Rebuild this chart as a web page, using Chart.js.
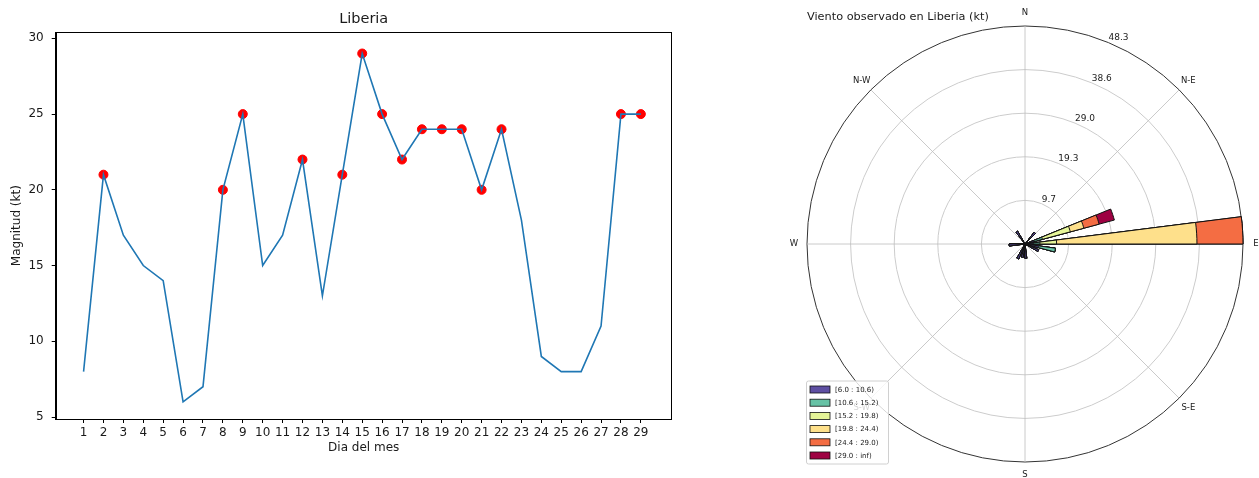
<!DOCTYPE html>
<html>
<head>
<meta charset="utf-8">
<script src="https://cdn.jsdelivr.net/npm/chart.js@4.4.1/dist/chart.umd.min.js"></script>
<style>
html,body{margin:0;padding:0;background:#fff;width:1259px;height:478px;overflow:hidden;}
#lineChart{position:absolute;left:0;top:0;}
#roseChart{position:absolute;left:780px;top:0;}
</style>
</head>
<body>
<canvas id="lineChart" width="700" height="478" style="width:700px;height:478px"></canvas>
<canvas id="roseChart" width="479" height="478" style="width:479px;height:478px"></canvas>
<script>
// ---------- Left chart data ----------
const days = [1,2,3,4,5,6,7,8,9,10,11,12,13,14,15,16,17,18,19,20,21,22,23,24,25,26,27,28,29];
const speedKt = [8,21,17,15,14,6,7,20,25,15,17,22,13,21,29,25,22,24,24,24,20,24,18,9,8,8,11,25,25];
const markedDays = [2,8,9,12,14,15,16,17,18,19,20,21,22,28,29];
const yTicks = [5,10,15,20,25,30];

// ---------- Wind rose data ----------
const compassLabels = ['N','N-E','E','S-E','S','S-W','W','N-W'];
const sectorDirs = [0,15,30,45,60,75,90,105,120,135,150,165,180,195,210,225,240,255,270,285,300,315,330,345];
const binLabels = ['[6.0 : 10.6)','[10.6 : 15.2)','[15.2 : 19.8)','[19.8 : 24.4)','[24.4 : 29.0)','[29.0 : inf)'];
const binColors = ['#5e4fa2','#66c2a5','#e6f598','#fee08b','#f46d43','#9e0142'];
//                 0   15  30  45  60  75   90   105 120 135 150 165 180 195 210 225 240 255 270 285 300 315 330 345
const bin6to10  = [0,  0,  0,  3.3,0,  2.0, 1.8, 3.0,3.3,0,  0,  0,  3.2,3.0,3.6,0,  0,  0,  3.5,0,  0,  0,  3.3,0];
const bin10to15 = [0,  0,  0,  0,  0,  2.0, 1.5, 3.8,0,  0,  0,  0,  0,  0,  0,  0,  0,  0,  0,  0,  0,  0,  0,  0];
const bin15to19 = [0,  0,  0,  0,  0,  6.4, 3.7, 0,  0,  0,  0,  0,  0,  0,  0,  0,  0,  0,  0,  0,  0,  0,  0,  0];
const bin19to24 = [0,  0,  0,  0,  0,  3.1, 31.1,0,  0,  0,  0,  0,  0,  0,  0,  0,  0,  0,  0,  0,  0,  0,  0,  0];
const bin24to29 = [0,  0,  0,  0,  0,  3.5, 10.2,0,  0,  0,  0,  0,  0,  0,  0,  0,  0,  0,  0,  0,  0,  0,  0,  0];
const bin29up   = [0,  0,  0,  0,  0,  3.5, 0,   0,  0,  0,  0,  0,  0,  0,  0,  0,  0,  0,  0,  0,  0,  0,  0,  0];
const ringValues = [9.66, 19.32, 28.98, 38.64, 48.3];
const ringLabels = ['9.7','19.3','29.0','38.6','48.3'];

const FONT = "'DejaVu Sans', 'Liberation Sans', sans-serif";
const TXT = '#1a1a1a';

// ---------- Left line chart ----------
const frameAndTitle = {
  id: 'frameAndTitle',
  afterDraw(chart) {
    const {ctx, chartArea: a} = chart;
    ctx.save();
    ctx.strokeStyle = '#000';
    ctx.lineWidth = 1;
    ctx.strokeRect(Math.round(a.left) + 0.5, Math.round(a.top) + 0.5, Math.round(a.right - a.left) - 1, Math.round(a.bottom - a.top));
    ctx.fillStyle = TXT;
    ctx.font = `14.5px ${FONT}`;
    ctx.textAlign = 'center';
    ctx.textBaseline = 'middle';
    ctx.fillText('Liberia', (a.left + a.right) / 2, 19.5);
    ctx.restore();
  }
};

new Chart(document.getElementById('lineChart'), {
  type: 'line',
  data: {
    datasets: [
      {
        data: days.map((d, i) => ({x: d, y: speedKt[i]})),
        borderColor: '#1f77b4',
        borderWidth: 1.6,
        pointRadius: 0,
        tension: 0,
        order: 0
      },
      {
        type: 'scatter',
        data: markedDays.map(d => ({x: d, y: speedKt[days.indexOf(d)]})),
        backgroundColor: '#ff0000',
        borderColor: '#ff0000',
        pointRadius: 4.5,
        showLine: false,
        order: 1
      }
    ]
  },
  options: {
    responsive: false,
    animation: false,
    layout: {padding: {left: 0, right: 28.3, top: 32.3, bottom: 0}},
    plugins: {
      legend: {display: false},
      tooltip: {enabled: false},
      title: {display: false}
    },
    scales: {
      x: {
        type: 'linear', min: -0.4, max: 30.55,
        afterBuildTicks: s => { s.ticks = days.map(v => ({value: v})); },
        afterFit: s => { s.height = 59; },
        ticks: {color: TXT, font: {family: FONT, size: 12}, padding: 3, maxRotation: 0, autoSkip: false},
        grid: {drawOnChartArea: false, drawTicks: true, tickLength: 4, tickColor: '#000', color: '#000', lineWidth: 1},
        border: {display: true, color: '#000', width: 1},
        title: {display: true, text: 'Dia del mes', color: TXT, font: {family: FONT, size: 12}, padding: {top: 0, bottom: 22.8}}
      },
      y: {
        type: 'linear', min: 4.87, max: 30.4,
        afterBuildTicks: s => { s.ticks = yTicks.map(v => ({value: v})); },
        afterFit: s => { s.width = 55.7; },
        ticks: {color: TXT, font: {family: FONT, size: 12}, padding: 8},
        grid: {drawOnChartArea: false, drawTicks: true, tickLength: 4, tickColor: '#000', color: '#000', lineWidth: 1},
        border: {display: true, color: '#000', width: 1},
        title: {display: true, text: 'Magnitud (kt)', color: TXT, font: {family: FONT, size: 12}, padding: {top: 9.8, bottom: 0}}
      }
    }
  },
  plugins: [frameAndTitle]
});

// ---------- Right wind rose (polar area) ----------
const binSeries = [bin6to10, bin10to15, bin15to19, bin19to24, bin24to29, bin29up];
const opening = 7.2;
const arcAngles = [];
const arcSector = [];
let prevEnd = 0;
for (let k = 1; k <= sectorDirs.length; k++) {
  const s = k % sectorDirs.length;
  const dir = s === 0 ? 360 : sectorDirs[s];
  arcAngles.push(dir - opening - prevEnd); arcSector.push(-1);   // empty gap
  arcAngles.push(opening); arcSector.push(s);                      // bar of sector s
  prevEnd = dir;
}

const roseDatasets = binSeries.map((_, b) => ({
  label: binLabels[b],
  data: arcSector.map(s => s < 0 ? 0 : binSeries.slice(0, b + 1).reduce((acc, arr) => acc + arr[s], 0)),
  backgroundColor: binColors[b],
  borderColor: '#111',
  borderWidth: ctx => (ctx.raw > 0 ? 1 : 0),
  borderJoinStyle: 'miter',
  angle: ctx => arcAngles[ctx.dataIndex]
}));

const roseText = {
  id: 'roseText',
  afterDraw(chart) {
    const {ctx} = chart;
    const scale = chart.scales.r;
    ctx.save();
    // compass labels
    ctx.font = `8.5px ${FONT}`;
    ctx.fillStyle = TXT;
    ctx.textAlign = 'center';
    ctx.textBaseline = 'middle';
    compassLabels.forEach((lab, i) => {
      const p = scale.getPointPosition(i, scale.drawingArea + 13);
      ctx.fillText(lab, p.x, p.y);
    });
    // ring labels along 22.5 degrees
    ctx.font = `9px ${FONT}`;
    ctx.textAlign = 'left';
    ctx.textBaseline = 'bottom';
    ringValues.forEach((v, i) => {
      const p = scale.getPointPosition(0.5, scale.getDistanceFromCenterForValue(v));
      ctx.fillText(ringLabels[i], p.x, p.y);
    });
    // legend
    const a = chart.chartArea;
    const lx = a.left - 1, ly = a.bottom - 83, lw = 82, lh = 83;
    ctx.fillStyle = 'rgba(255,255,255,0.8)';
    ctx.strokeStyle = '#d0d0d0';
    ctx.lineWidth = 1;
    ctx.beginPath();
    if (ctx.roundRect) ctx.roundRect(lx + 0.5, ly + 0.5, lw, lh, 2); else ctx.rect(lx + 0.5, ly + 0.5, lw, lh);
    ctx.fill();
    ctx.stroke();
    ctx.font = `7px ${FONT}`;
    ctx.textAlign = 'left';
    ctx.textBaseline = 'middle';
    binLabels.forEach((lab, i) => {
      const cy = ly + 9 + i * 13.2;
      ctx.fillStyle = binColors[i];
      ctx.fillRect(lx + 4, cy - 3.5, 20, 7);
      ctx.strokeStyle = '#111';
      ctx.lineWidth = 0.8;
      ctx.strokeRect(lx + 4, cy - 3.5, 20, 7);
      ctx.fillStyle = TXT;
      ctx.fillText(lab, lx + 29, cy + 0.5);
    });
    ctx.restore();
  }
};

new Chart(document.getElementById('roseChart'), {
  type: 'polarArea',
  data: {
    labels: compassLabels,
    datasets: roseDatasets
  },
  options: {
    responsive: false,
    animation: false,
    layout: {padding: {left: 27, right: 15, top: 0, bottom: 14.5}},
    plugins: {
      legend: {display: false},
      tooltip: {enabled: false},
      title: {
        display: true, text: 'Viento observado en Liberia (kt)', align: 'start', color: TXT,
        font: {family: FONT, size: 11.3, weight: 'normal'},
        padding: {top: 10, bottom: 1.3}
      }
    },
    scales: {
      r: {
        min: 0, max: 48.3, startAngle: 0,
        afterBuildTicks: s => { s.ticks = [0, ...ringValues].map(v => ({value: v})); },
        ticks: {display: false},
        grid: {
          circular: true,
          color: c => (c.index === ringValues.length ? '#333' : '#cccccc'),
          lineWidth: 1
        },
        angleLines: {display: true, color: '#bdbdbd', lineWidth: 0.8},
        pointLabels: {display: false}
      }
    }
  },
  plugins: [roseText]
});
</script>
</body>
</html>
